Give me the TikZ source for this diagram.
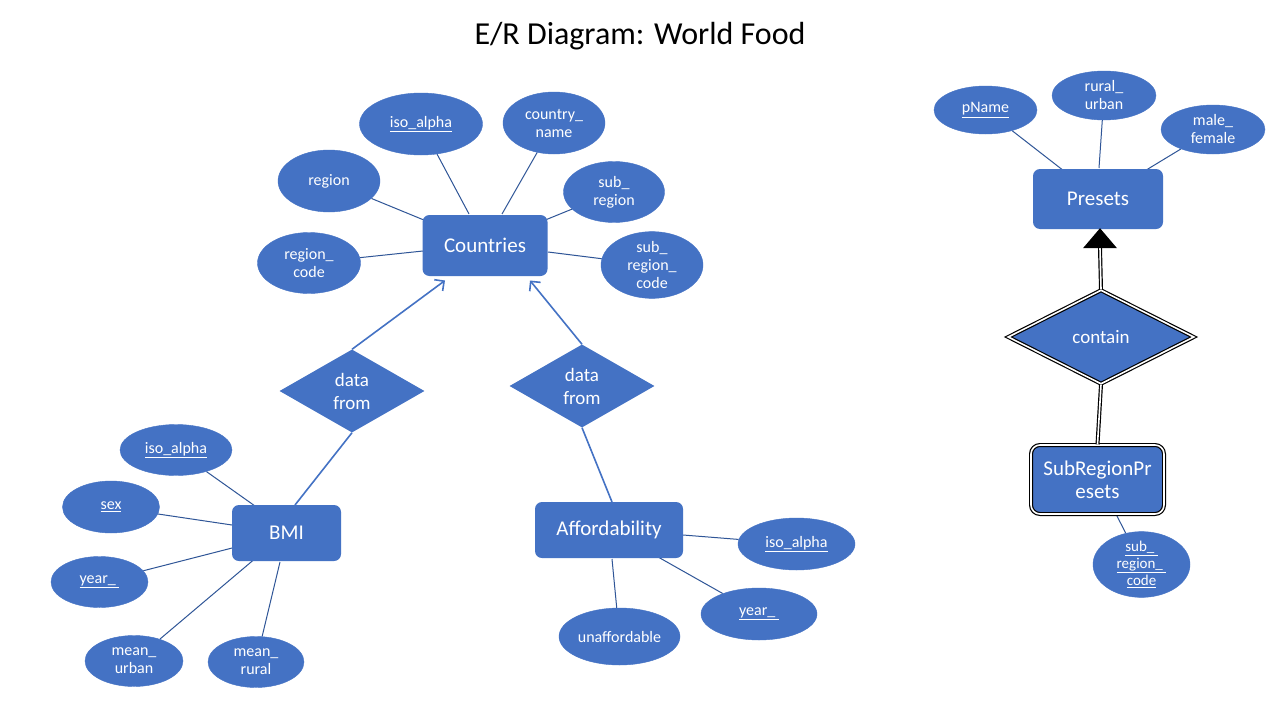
\documentclass[tikz,border=0pt]{standalone}
\usepackage{fontspec}
\setmainfont{Carlito}
\usetikzlibrary{shapes.geometric,arrows.meta,calc,backgrounds}
\definecolor{erblue}{HTML}{4472C4}
\definecolor{erline}{HTML}{2F5597}
\begin{document}
\begin{tikzpicture}[x=1pt,y=-1pt,
  attr/.style={ellipse,fill=erblue,draw=erblue,inner sep=0pt,text=white,align=center,font=\fontsize{16}{18}\selectfont},
  ent/.style={rectangle,rounded corners=7pt,fill=erblue,inner sep=0pt,text=white,align=center,font=\fontsize{21}{23}\selectfont},
  rel/.style={diamond,fill=erblue,inner sep=0pt,text=white,align=center,font=\fontsize{19}{23}\selectfont},
  aline/.style={draw=erline,line width=1pt},
  rline/.style={draw=erblue,line width=1.6pt},
  dline/.style={draw=black,double=white,line width=1.2pt,double distance=1.6pt}]
\useasboundingbox (0,0) rectangle (1280,720);
\node (title) at (640,36) {\fontsize{32}{36}\selectfont E/R Diagram: World Food};

% Countries
\node[ent,minimum width=125,minimum height=61] (countries) at (485,245.5) {Countries};
\node[attr,minimum width=123,minimum height=62] (iso1) at (421,124) {\underline{iso\_alpha}};
\node[attr,minimum width=102,minimum height=62] (cname) at (554,123) {country\_\\name};
\node[attr,minimum width=102,minimum height=62] (region) at (329,181) {region};
\node[attr,minimum width=101,minimum height=61] (subregion) at (614,192) {sub\_\\region};
\node[attr,minimum width=103,minimum height=61] (regcode) at (309,263) {region\_\\code};
\node[attr,minimum width=102,minimum height=61] (subregcode) at (652,265) {sub\_\\region\_\\code};

% relationships
\node[rel,minimum width=145,minimum height=83] (df1) at (352,391) {data\\from};
\node[rel,minimum width=145,minimum height=83] (df2) at (582,386) {data\\from};

% BMI
\node[ent,minimum width=109,minimum height=56] (bmi) at (286.5,533) {BMI};
\node[attr,minimum width=112,minimum height=51] (iso2) at (176,450) {\underline{iso\_alpha}};
\node[attr,minimum width=97,minimum height=52] (sex) at (111,507) {\underline{sex}};
\node[attr,minimum width=97,minimum height=51] (year2) at (99.5,582) {\underline{year\_\ }};
\node[attr,minimum width=98,minimum height=51] (murban) at (134,661) {mean\_\\urban};
\node[attr,minimum width=96,minimum height=51] (mrural) at (256,662) {mean\_\\rural};

% Affordability
\node[ent,minimum width=148,minimum height=56] (afford) at (609,530) {Affordability};
\node[attr,minimum width=117,minimum height=52] (iso3) at (796.5,544) {\underline{iso\_alpha}};
\node[attr,minimum width=116,minimum height=52] (year3) at (759,614) {\underline{year\_\ }};
\node[attr,minimum width=121,minimum height=57] (unaff) at (619.5,636.5) {unaffordable};

% Presets
\node[ent,minimum width=130,minimum height=60] (presets) at (1098,199) {Presets};
\node[attr,minimum width=103,minimum height=48] (pname) at (985.5,110) {\underline{pName}};
\node[attr,minimum width=104,minimum height=49] (rurban) at (1104,95.5) {rural\_\\urban};
\node[attr,minimum width=104,minimum height=49] (mfemale) at (1213,129.5) {male\_\\female};

\node[rel,dline,minimum width=186,minimum height=94] (contain) at (1101,337) {contain};
\node[ent,dline,minimum width=133,minimum height=69,rounded corners=9pt] (srp) at (1097.5,479.5) {SubRegionPr\\esets};
\node[attr,minimum width=97,minimum height=55,font=\fontsize{15}{17}\selectfont] (srcode) at (1141.5,564.5) {\underline{sub\_\ }\\\underline{region\_\ }\\\underline{code}};

\coordinate (tritip) at ($(presets.south)+(2,-1)$);
\coordinate (tribase) at ($(tritip)+(0,20)$);

\begin{scope}[on background layer]
\fill[white] (0,0) rectangle (1280,720);
\draw[aline] (iso1) -- ($(countries.center)+(-16,-31.5)$);
\draw[aline] (cname) -- ($(countries.center)+(17,-31.5)$);
\draw[aline] (region) -- ($(countries.center)+(-49,-20.5)$);
\draw[aline] (subregion) -- ($(countries.center)+(48,-20.5)$);
\draw[aline] (regcode) -- ($(countries.center)+(-62,5.5)$);
\draw[aline] (subregcode) -- ($(countries.center)+(63,6.5)$);

\draw[aline] (iso2) -- ($(bmi.center)+(-31.5,-27)$);
\draw[aline] (sex) -- ($(bmi.center)+(-54.5,-8)$);
\draw[aline] (year2) -- ($(bmi.center)+(-50.5,14)$);
\draw[aline] (murban) -- ($(bmi.center)+(-29.5,24)$);
\draw[aline] (mrural) -- ($(bmi.center)+(-6.5,29)$);

\draw[aline] (iso3) -- ($(afford.center)+(74,5)$);
\draw[aline] (year3) -- ($(afford.center)+(42,23)$);
\draw[aline] (unaff) -- ($(afford.center)+(3,29)$);

\draw[aline] (pname) -- ($(presets.center)+(-34,-28)$);
\draw[aline] (rurban) -- ($(presets.center)+(1,-31)$);
\draw[aline] (mfemale) -- ($(presets.center)+(40,-24)$);

\draw[aline] (srcode) -- ($(srp.center)+(17.5,32.5)$);
\end{scope}

\draw[rline,-{Straight Barb[length=7pt,width=14pt,line width=1.6pt]}] (df1.north) -- ($(countries.center)+(-40,35)$);
\draw[rline] (df1.south) -- ($(bmi.center)+(8.5,-28)$);
\draw[rline,-{Straight Barb[length=7pt,width=14pt,line width=1.6pt]}] (df2.north) -- ($(countries.center)+(45,35)$);
\draw[rline] (df2.south) -- ($(afford.center)+(3,-28)$);

\draw[dline] (contain.north) -- (tribase);
\draw[dline] (contain.south) -- (srp.north);
\fill[black] (tritip) -- ($(tribase)+(-17,0)$) -- ($(tribase)+(17,0)$) -- cycle;
\end{tikzpicture}
\end{document}
